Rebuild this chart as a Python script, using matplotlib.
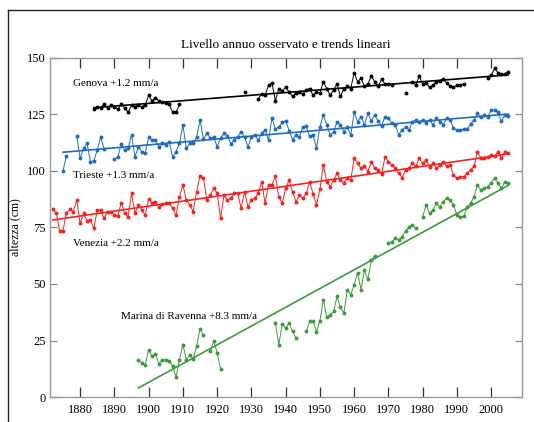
import numpy as np
import matplotlib
matplotlib.use('Agg')
import matplotlib.pyplot as plt
from matplotlib.lines import Line2D

nan = np.nan

# annual mean sea level (cm), one value per year, nan = missing year
genova_years = np.arange(1884, 2006)
genova = [
    127.3, 128.5, 128.0, 129.5, 128.0, 129.0, 128.5, 127.5, 129.5, 128.0,  # 1884-1893
    126.0, 129.0, 128.5, 129.0, 128.5, 129.0, 133.5, 131.0, 132.5, 131.0,  # 1894-1903
    130.5, 130.0, 129.5, 126.0, 126.0, 129.5, nan, nan, nan, nan,          # 1904-1913
    nan, nan, nan, nan, nan, nan, nan, nan, nan, nan,                      # 1914-1923
    nan, nan, nan, nan, 134.8, nan, nan, nan, 132.0, 134.0,                # 1924-1933
    133.5, 138.0, 139.0, 131.0, 136.5, 135.5, 137.0, 135.0, 133.0, 134.5,  # 1934-1943
    135.0, 134.0, 136.0, 136.5, 133.5, 135.0, 134.5, 139.5, 136.5, 133.5,  # 1944-1953
    136.0, 138.5, 133.0, 136.5, 137.5, 136.5, 143.5, 139.5, 141.0, 137.5,  # 1954-1963
    138.5, 142.0, 139.5, 137.5, 140.5, 138.5, 138.5, 138.0, nan, nan,      # 1964-1973
    nan, 134.4, nan, 139.5, 138.0, 142.0, 138.5, 139.0, 137.0, 138.0,      # 1974-1983
    139.5, 140.0, 140.5, 139.0, 137.5, 137.0, 138.0, 138.2, 138.4, nan,    # 1984-1993
    nan, nan, nan, nan, nan, 141.0, 142.5, 145.4, 143.5, 142.9,            # 1994-2003
    143.0, 144.0,                                                          # 2004-2005
]

trieste_years = np.arange(1875, 2006)
trieste = [
    100.1, 106.6, nan, nan, 115.5, 105.6, 110.0, 112.3, 104.1, 104.5,      # 1875-1884
    109.3, 115.0, 109.7, nan, nan, 105.2, 106.3, 111.8, 109.3, 110.0,      # 1885-1894
    116.0, 106.3, 110.7, 108.5, 108.0, 114.9, 113.7, 113.7, 110.7, 112.2,  # 1895-1904
    111.5, 113.0, 106.3, 108.5, 112.2, 120.4, 110.0, 112.2, 112.5, 114.9,  # 1905-1914
    122.6, 114.0, 116.7, 114.5, 115.0, 110.7, 114.5, 116.7, 115.5, 112.0,  # 1915-1924
    113.7, 115.0, 117.4, 115.0, 110.8, 115.0, 116.0, 113.7, 116.7, 118.2,  # 1925-1934
    113.7, 123.3, 118.5, 119.5, 121.5, 122.3, 117.9, 113.9, 115.8, 115.0,  # 1935-1944
    119.5, 119.7, 115.3, 115.8, 110.3, 119.5, 124.8, 120.4, 115.8, 117.4,  # 1945-1954
    121.8, 120.4, 117.4, 119.5, 115.8, 126.0, 121.8, 124.0, 120.4, 125.5,  # 1955-1964
    122.2, 124.8, 122.1, 119.9, 124.0, 123.3, 121.1, 120.4, 116.0, 118.2,  # 1965-1974
    119.4, 118.2, 121.8, 122.6, 121.8, 122.6, 121.1, 122.6, 120.4, 123.3,  # 1975-1984
    121.8, 120.4, 123.3, 122.6, 118.9, 118.2, 118.2, 118.5, 118.5, 120.9,  # 1985-1994
    122.6, 125.5, 124.0, 124.8, 124.0, 127.0, 127.0, 126.3, 122.0, 124.8,  # 1995-2004
    124.5,                                                                 # 2005
]

venezia_years = np.arange(1872, 2006)
venezia = [
    83.0, 81.6, 73.6, 73.6, 81.6, 83.0, 82.0, 87.2, 76.8, 81.3,            # 1872-1881
    77.9, 78.5, 74.6, 82.7, 82.7, 79.0, 82.0, 82.0, 80.5, 80.0,            # 1882-1891
    86.0, 81.3, 79.8, 90.1, 81.3, 85.0, 82.7, 80.5, 87.5, 86.0,            # 1892-1901
    86.4, 84.2, 85.2, 85.7, 85.7, 83.5, 80.5, 88.6, 93.8, 87.2,            # 1902-1911
    85.0, 82.0, 90.9, 97.9, 96.8, 87.2, 89.4, 92.3, 90.1, 79.0,            # 1912-1921
    89.4, 87.2, 87.9, 90.1, 90.1, 83.5, 90.9, 84.2, 87.2, 87.9,            # 1922-1931
    90.1, 95.3, 85.7, 94.0, 93.8, 97.8, 88.6, 85.7, 92.3, 96.0,            # 1932-1941
    90.9, 86.4, 89.4, 88.0, 90.1, 95.0, 90.0, 85.0, 91.9, 102.7,           # 1942-1951
    95.3, 93.1, 96.0, 99.0, 96.0, 94.9, 96.8, 96.0, 105.6, 103.4,          # 1952-1961
    101.2, 102.0, 99.7, 104.1, 101.2, 100.5, 98.5, 106.3, 104.1, 102.7,    # 1962-1971
    101.2, 99.0, 97.0, 100.5, 101.2, 103.4, 102.0, 105.6, 103.4, 104.8,    # 1972-1981
    101.9, 103.4, 101.2, 102.7, 104.1, 102.0, 102.7, 98.2, 96.8, 97.5,     # 1982-1991
    97.5, 99.0, 100.5, 102.0, 108.6, 105.6, 105.6, 106.3, 107.0, 106.5,    # 1992-2001
    108.6, 105.6, 108.6, 107.9,                                            # 2002-2005
]

ravenna_years = np.arange(1897, 2006)
ravenna = [
    16.2, 15.0, 14.0, 21.0, 18.0, 19.0, 14.6, 16.5, 16.5, 15.8,            # 1897-1906
    13.6, 8.7, 16.5, 23.2, 16.5, 18.4, 17.0, 22.4, 30.2, 27.3,             # 1907-1916
    nan, 20.2, 24.9, 19.5, 12.5, nan, nan, nan, nan, nan,                  # 1917-1926
    nan, nan, nan, nan, nan, nan, nan, nan, nan, nan,                      # 1927-1936
    32.7, 23.2, 32.3, 30.5, 32.7, 29.0, 26.1, nan, nan, 29.0,              # 1937-1946
    33.5, 33.5, 28.8, 33.8, 43.1, 35.2, 36.4, 37.9, 44.5, 39.7,            # 1947-1956
    37.2, 47.5, 45.3, 49.7, 55.0, 47.5, 56.0, 52.0, 60.5, 62.4,            # 1957-1966
    nan, nan, nan, 68.0, 68.7, 70.2, 69.5, 70.9, 73.5, 75.4,               # 1967-1976
    76.1, 74.6, nan, 79.8, 84.9, 81.3, 82.7, 85.7, 84.2, 86.4,             # 1977-1986
    87.9, 87.2, 85.0, 80.5, 79.5, 80.1, 84.2, 85.7, 88.6, 93.8,            # 1987-1996
    91.6, 92.3, 93.1, 94.9, 96.8, 94.6, 92.3, 95.3, 94.6,                  # 1997-2005
]

# linear trends: (first year, level at first year in cm, rate in mm/a)
trend_genova = (1884, 128.0, 1.2)
trend_trieste = (1875, 108.3, 1.3)
trend_venezia = (1872, 78.3, 2.2)
trend_ravenna = (1897, 4.0, 8.3)

series = [
    ('Genova', genova_years, genova, trend_genova, 'black', (1878, 138.5)),
    ('Trieste', trieste_years, trieste, trend_trieste, '#1f6cc0', (1878, 97.8)),
    ('Venezia', venezia_years, venezia, trend_venezia, '#f52222', (1878, 68.1)),
    ('Marina di Ravenna', ravenna_years, ravenna, trend_ravenna, '#3c9a3c', (1892, 35.8)),
]

plt.rcParams['font.family'] = ['Liberation Serif', 'DejaVu Serif']

fig = plt.figure(figsize=(5.34, 4.22), dpi=100)
ax = fig.add_axes([50 / 534, 1 - 397 / 422, 472 / 534, 339 / 422])

for name, yrs, vals, (y0, lev0, rate), color, (tx, ty) in series:
    ax.plot(yrs, vals, color=color, lw=0.7, marker='o', ms=1.8, mec=color, mfc=color)
    ty_end = yrs[-1]
    ax.plot([y0, ty_end], [lev0, lev0 + rate / 10 * (ty_end - y0)], color=color, lw=1.2)
    ax.text(tx, ty, '%s +%.1f mm/a' % (name, rate), fontsize=8, va='center', ha='left')

ax.set_xlim(1871.2, 2009.0)
ax.set_ylim(0, 150)
ax.set_xticks(np.arange(1880, 2001, 10))
ax.set_yticks(np.arange(0, 151, 25))
ax.tick_params(axis='x', direction='in', length=7, width=0.9, color='#333333',
               top=True, labelsize=9, pad=5)
ax.tick_params(axis='y', direction='in', length=5, width=0.9, color='#888888',
               right=True, labelsize=9, pad=3)
for sp in ax.spines.values():
    sp.set_color('#999999')
    sp.set_linewidth(1.0)

ax.set_title('Livello annuo osservato e trends lineari', fontsize=9.5, pad=7)
ax.set_ylabel('altezza (cm)', fontsize=8.5)
ax.yaxis.set_label_coords(-0.060, 0.5)

# outer frame (left and top edges of the original panel)
fig.add_artist(Line2D([8 / 534, 8 / 534], [0, 1 - 10 / 422], transform=fig.transFigure,
                      color='#222222', lw=1.0))
fig.add_artist(Line2D([8 / 534, 1], [1 - 10 / 422, 1 - 10 / 422], transform=fig.transFigure,
                      color='#222222', lw=1.0))

fig.savefig('out.png', dpi=100)
